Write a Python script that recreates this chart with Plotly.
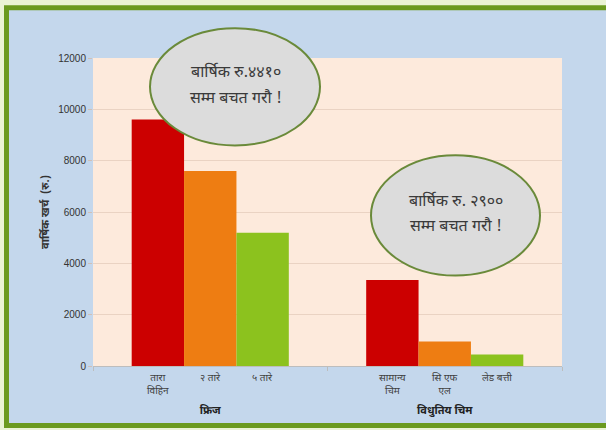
import plotly.graph_objects as go

# ---- data ----
groups = ["फ्रिज", "विधुतिय चिम"]
series_names = ["उच्च", "मध्यम", "न्यून"]
values_red = [9600, 3350]
values_orange = [7600, 950]
values_green = [5190, 450]
sub_labels = [
    ["तारा<br>विहिन", "२ तारे", "५ तारे"],
    ["सामान्य<br>चिम", "सि एफ<br>एल", "लेड बत्ती"],
]
y_ticks = [0, 2000, 4000, 6000, 8000, 10000, 12000]
y_title = "वार्षिक खर्च  (रु.)"
bubble1 = ["बार्षिक रु.४४१०", "सम्म बचत गरौ !"]
bubble2 = ["बार्षिक रु. २९००", "सम्म बचत गरौ !"]

colors = ["#cc0000", "#ee7d12", "#8cc21e"]
FONT = "Noto Sans Devanagari, Lohit Devanagari, FreeSans, Noto Sans, Liberation Sans, sans-serif"

W, H = 606, 430
L, R, T, B = 93, 44, 58, 62
pw, ph = W - L - R, H - T - B


def px_x(px):
    return (px - L) / pw


def px_y(py):
    return (H - B - py) / ph


bargap = 0.33
fig = go.Figure()
for name, vals, c in zip(series_names, [values_red, values_orange, values_green], colors):
    fig.add_trace(go.Bar(x=groups, y=vals, name=name, marker=dict(color=c, line=dict(width=0)),
                         showlegend=False))

shapes = [
    # outer frame
    dict(type="rect", xref="paper", yref="paper", layer="below",
         x0=px_x(6.5), x1=px_x(640), y0=px_y(428), y1=px_y(7.5),
         fillcolor="#c4d7ec", line=dict(color="#6b9a1f", width=5)),
    # plot area
    dict(type="rect", xref="paper", yref="paper", layer="below",
         x0=0, x1=1, y0=0, y1=1, fillcolor="#fdeadc", line=dict(width=0)),
    # bubbles
    dict(type="circle", xref="paper", yref="paper", layer="above",
         x0=px_x(150), x1=px_x(320), y0=px_y(146), y1=px_y(28),
         fillcolor="#dcdcdc", line=dict(color="#6a8a3a", width=2)),
    dict(type="circle", xref="paper", yref="paper", layer="above",
         x0=px_x(371), x1=px_x(540), y0=px_y(277), y1=px_y(156),
         fillcolor="#dcdcdc", line=dict(color="#6a8a3a", width=2)),
]

annotations = []
w = (1 - bargap) / 3
for gi, labs in enumerate(sub_labels):
    for j, lab in enumerate(labs):
        annotations.append(dict(x=gi + (j - 1) * w, xref="x", y=px_y(372), yref="paper",
                                text=lab, showarrow=False, xanchor="center", yanchor="top",
                                font=dict(family=FONT, size=10, color="#404040")))

for (cx, ys, lines) in [(236, (73, 100), bubble1), (456, (203, 229), bubble2)]:
    for yy, t in zip(ys, lines):
        annotations.append(dict(x=px_x(cx), xref="paper", y=px_y(yy), yref="paper",
                                text=t, showarrow=False, xanchor="center", yanchor="middle",
                                font=dict(family=FONT, size=16, color="#3a3a3a")))

fig.update_layout(
    width=W, height=H,
    margin=dict(l=L, r=R, t=T, b=B),
    paper_bgcolor="#eaf3d4",
    plot_bgcolor="rgba(0,0,0,0)",
    barmode="group", bargap=bargap, bargroupgap=0,
    shapes=shapes, annotations=annotations,
    font=dict(family=FONT, color="#333333"),
)
fig.update_xaxes(type="category", showline=True, linecolor="#bdbdbd", linewidth=1,
                 ticks="outside", tickson="boundaries", ticklen=4, tickcolor="#bdbdbd",
                 tickfont=dict(family=FONT, size=11, color="#222222", weight="bold"),
                 ticklabelstandoff=34, showgrid=False)
fig.update_yaxes(range=[0, 12000], tickvals=y_ticks, tickformat="d", showgrid=True,
                 gridcolor="#ead3c3", gridwidth=1, zeroline=False, showline=False,
                 ticks="outside", ticklen=4, tickcolor="#d0c0b8",
                 tickfont=dict(family="Liberation Sans, sans-serif", size=10, color="#333333"),
                 title=dict(text=y_title, standoff=6,
                            font=dict(family=FONT, size=11, color="#333333", weight="bold")))

fig.write_html("out.html", config={"displayModeBar": False},
               post_script="document.body.style.margin='0';")
